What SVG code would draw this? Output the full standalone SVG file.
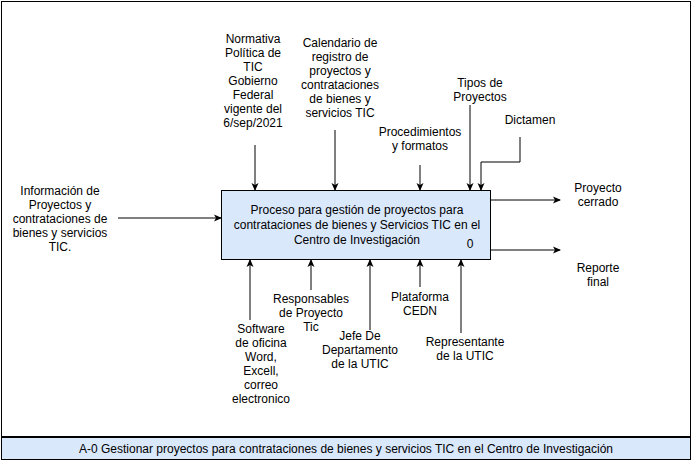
<svg xmlns="http://www.w3.org/2000/svg" width="693" height="461" viewBox="0 0 693 461">
<style>
text{font-family:"Liberation Sans",Arial,sans-serif;font-size:12px;fill:#000;text-anchor:middle}
.c line,.c polyline{stroke:#000;stroke-width:1;fill:none;marker-end:url(#a)}
</style>
<defs><marker id="a" markerWidth="8" markerHeight="8" refX="7" refY="4" orient="auto" markerUnits="userSpaceOnUse"><path d="M0,0.5 L8,4 L0,7.5 L2,4 Z" fill="#000"/></marker></defs>
<rect x="1.5" y="1.5" width="689" height="435" fill="#fff" stroke="#000"/>
<rect id="footer" x="1.5" y="437.5" width="689" height="22" fill="#dae8fc" stroke="#000"/>
<text x="346" y="453">A-0 Gestionar proyectos para contrataciones de bienes y servicios TIC en el Centro de Investigación</text>
<g id="proceso">
<rect x="221.5" y="190.5" width="269" height="69" fill="#dae8fc" stroke="#000"/>
<text x="357" y="214">Proceso para gestión de proyectos para</text>
<text x="357" y="229">contrataciones de bienes y Servicios TIC en el</text>
<text x="357" y="244">Centro de Investigación</text>
<text x="470" y="248">0</text>
</g>
<g class="c" id="connectors">
<line x1="118" y1="218" x2="221" y2="218"/>
<line x1="255" y1="145" x2="255" y2="190"/>
<line x1="335" y1="130" x2="335" y2="190"/>
<line x1="420" y1="165" x2="420" y2="190"/>
<line x1="470" y1="105" x2="470" y2="190"/>
<polyline points="520,137 520,162 481,162 481,190"/>
<line x1="491" y1="200" x2="560" y2="200"/>
<line x1="491" y1="250" x2="560" y2="250"/>
<line x1="250" y1="320" x2="250" y2="260"/>
<line x1="311" y1="290" x2="311" y2="260"/>
<line x1="370" y1="330" x2="370" y2="260"/>
<line x1="420" y1="287" x2="420" y2="260"/>
<line x1="461" y1="333" x2="461" y2="260"/>
</g>
<g id="l-entrada"><text x="60" y="195">Información de</text><text x="60" y="209">Proyectos y</text><text x="60" y="223">contrataciones de</text><text x="60" y="237">bienes y servicios</text><text x="60" y="251">TIC.</text></g>
<g id="l-normativa"><text x="253" y="43">Normativa</text><text x="253" y="57">Política de</text><text x="253" y="71">TIC</text><text x="253" y="85">Gobierno</text><text x="253" y="99">Federal</text><text x="253" y="113">vigente del</text><text x="253" y="127">6/sep/2021</text></g>
<g id="l-calendario"><text x="340" y="47">Calendario de</text><text x="340" y="61">registro de</text><text x="340" y="75">proyectos y</text><text x="340" y="89">contrataciones</text><text x="340" y="103">de bienes y</text><text x="340" y="117">servicios TIC</text></g>
<g id="l-proc"><text x="420" y="136">Procedimientos</text><text x="420" y="150">y formatos</text></g>
<g id="l-tipos"><text x="480" y="87">Tipos de</text><text x="480" y="101">Proyectos</text></g>
<g id="l-dictamen"><text x="530" y="124">Dictamen</text></g>
<g id="l-cerrado"><text x="598" y="192">Proyecto</text><text x="598" y="206">cerrado</text></g>
<g id="l-reporte"><text x="598" y="272">Reporte</text><text x="598" y="286">final</text></g>
<g id="l-software"><text x="261" y="333">Software</text><text x="261" y="347">de oficina</text><text x="261" y="361">Word,</text><text x="261" y="375">Excell,</text><text x="261" y="389">correo</text><text x="261" y="403">electronico</text></g>
<g id="l-resp"><text x="311" y="303">Responsables</text><text x="311" y="317">de Proyecto</text><text x="311" y="331">Tic</text></g>
<g id="l-jefe"><text x="360" y="340">Jefe De</text><text x="360" y="354">Departamento</text><text x="360" y="368">de la UTIC</text></g>
<g id="l-plataforma"><text x="420" y="301">Plataforma</text><text x="420" y="315">CEDN</text></g>
<g id="l-repr"><text x="465" y="346">Representante</text><text x="465" y="360">de la UTIC</text></g>
</svg>
